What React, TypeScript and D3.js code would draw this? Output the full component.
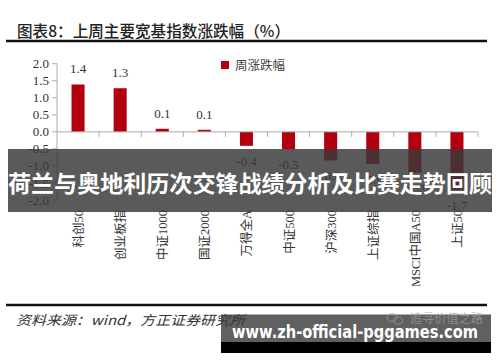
import React from "react";
import * as d3 from "d3";

const categories = ["科创50", "创业板指", "中证1000", "国证2000", "万得全A", "中证500", "沪深300", "上证综指", "MSCI中国A50", "上证50"];
const weeklyChange = [1.39, 1.28, 0.09, 0.06, -0.41, -0.51, -0.84, -0.94, -1.2, -1.7];
const yTicks = [2.0, 1.5, 1.0, 0.5, 0.0, -0.5, -1.0, -1.5, -2.0];
const titleText = "图表8：上周主要宽基指数涨跌幅（%）";
const legendLabel = "周涨跌幅";
const sourceText = "资料来源：wind，方正证券研究所";
const bannerText = "荷兰与奥地利历次交锋战绩分析及比赛走势回顾";
const watermarkText = "追寻价值之路";
const urlText = "www.zh-official-pggames.com";

const W = 500;
const H = 362;
const BAR = "#b2000f";
const SERIF = "'Liberation Serif', 'Times New Roman', 'Noto Sans CJK SC', serif";
const CJK = "'Noto Sans CJK SC', sans-serif";

export default function App() {
  const x = d3.scaleBand<string>().domain(categories).range([57, 478]).paddingInner(0).paddingOuter(0);
  const y = d3.scaleLinear().domain([-2, 2]).range([200, 63.7]);
  const bw = x.bandwidth() * 0.31;
  const y0 = y(0);

  return (
    <svg width={W} height={H} style={{ position: "absolute", left: 0, top: 0, background: "#fff" }}>
      <rect x={0} y={0} width={W} height={H} fill="#fff" />
      {/* title */}
      <text x={17} y={37} fontFamily={CJK} fontWeight={500} fontSize={15.5} fill="#222" textLength={273} lengthAdjust="spacingAndGlyphs">
        {titleText}
      </text>
      <line x1={6} x2={487} y1={41} y2={41} stroke="#111" strokeWidth={2.5} />

      {/* legend */}
      <rect x={221} y={61} width={8} height={8} fill={BAR} />
      <text x={235} y={69.5} fontFamily={CJK} fontSize={12.5} fill="#444">{legendLabel}</text>

      {/* y axis */}
      <line x1={57} x2={57} y1={y(2)} y2={y(-2)} stroke="#aaa" strokeWidth={1} />
      {yTicks.map((t) => (
        <g key={t}>
          <line x1={52} x2={57} y1={y(t)} y2={y(t)} stroke="#aaa" />
          <text x={49} y={y(t)} dy="0.35em" textAnchor="end" fontFamily={SERIF} fontSize={13} fill="#333">
            {t.toFixed(1)}
          </text>
        </g>
      ))}

      {/* bars */}
      {categories.map((c, i) => {
        const v = weeklyChange[i];
        const cx = (x(c) as number) + x.bandwidth() / 2;
        const top = Math.min(y(v), y0);
        const h = Math.abs(y(v) - y0);
        return (
          <g key={c}>
            <rect x={cx - bw / 2} y={top} width={bw} height={h} fill={BAR} />
            <text
              x={cx}
              y={v >= 0 ? y(v) - 11 : y(v) + 20}
              textAnchor="middle"
              fontFamily={SERIF}
              fontSize={13}
              fill="#333"
            >
              {v.toFixed(1)}
            </text>
          </g>
        );
      })}

      {/* zero line and category ticks */}
      <line x1={57} x2={478} y1={y0} y2={y0} stroke="#aaa" />
      {categories.map((c) => (
        <line key={"t" + c} x1={(x(c) as number) + x.bandwidth()} x2={(x(c) as number) + x.bandwidth()} y1={y0} y2={y0 + 5} stroke="#aaa" />
      ))}

      {/* category labels */}
      {categories.map((c) => {
        const cx = (x(c) as number) + x.bandwidth() / 2 + 1;
        return (
          <text
            key={"l" + c}
            transform={`translate(${cx},210) rotate(-90)`}
            textAnchor="end"
            dominantBaseline="central"
            fontFamily={SERIF}
            fontSize={12.5}
            fill="#333"
          >
            {c}
          </text>
        );
      })}

      {/* bottom rule and source */}
      <line x1={6} x2={487} y1={305} y2={305} stroke="#111" strokeWidth={2.5} />
      <text x={16} y={325} fontFamily={CJK} fontSize={13} fontStyle="italic" fill="#333" textLength={229} lengthAdjust="spacingAndGlyphs">
        {sourceText}
      </text>

      {/* url overlay */}
      <rect x={221} y={314.5} width={270} height={27.5} fill="rgba(56,56,56,0.8)" />
      <rect x={221} y={342} width={270} height={11} fill="#000" />

      {/* watermark */}
      <g opacity={0.6}>
        <ellipse cx={392} cy={317.5} rx={5} ry={4} fill="none" stroke="#aaa" />
        <ellipse cx={398} cy={320.5} rx={4.5} ry={3.5} fill="none" stroke="#aaa" />
        <text x={410} y={323} fontFamily={CJK} fontSize={12} fill="#aaa" textLength={73} lengthAdjust="spacingAndGlyphs">{watermarkText}</text>
      </g>

      <text x={232} y={338} fontFamily="'DejaVu Sans', sans-serif" fontWeight="bold" fontSize={18} fill="#fff" textLength={246} lengthAdjust="spacingAndGlyphs">
        {urlText}
      </text>

      {/* banner overlay */}
      <rect x={8} y={149} width={484} height={63} fill="rgba(56,56,56,0.83)" />
      <text x={8} y={192} fontFamily={CJK} fontWeight="bold" fontSize={23} fill="#fff" textLength={484} lengthAdjust="spacingAndGlyphs">
        {bannerText}
      </text>
    </svg>
  );
}
